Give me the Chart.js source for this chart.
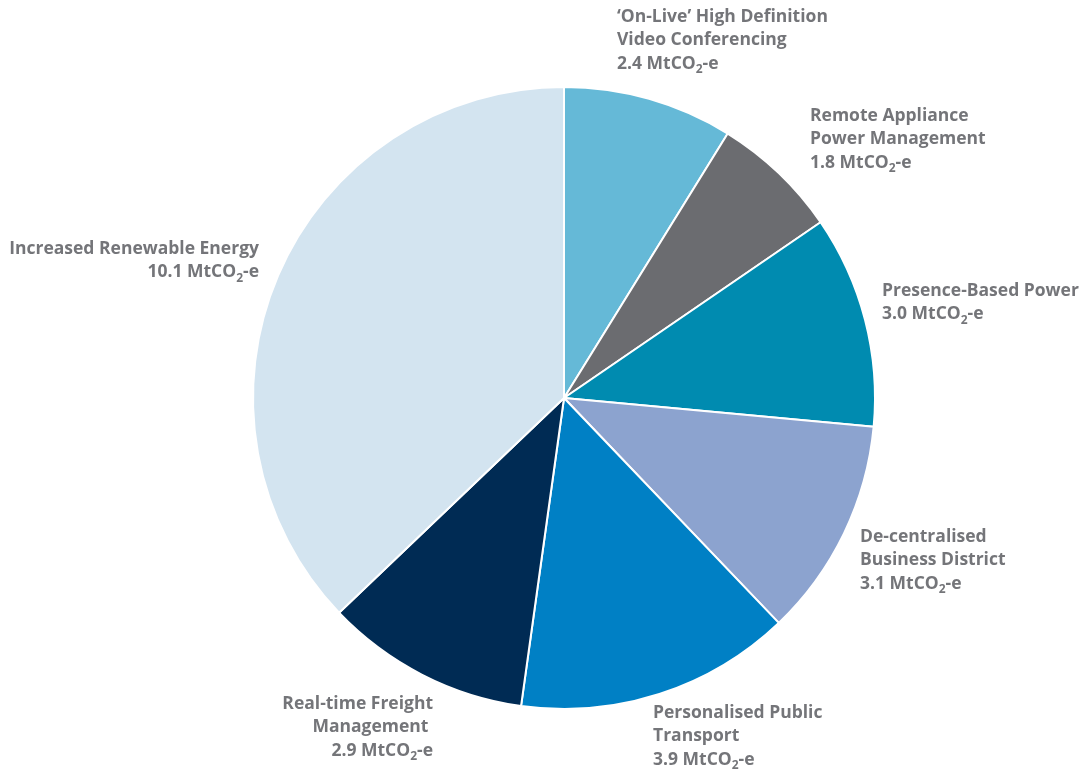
<!DOCTYPE html>
<html>
<head>
<meta charset="utf-8">
<script src="https://cdn.jsdelivr.net/npm/chart.js@4"></script>
<style>
  html, body { margin: 0; padding: 0; background: #fff; }
  #wrap { width: 1079px; height: 775px; position: relative; }
</style>
</head>
<body>
<div id="wrap"><canvas id="pieChart"></canvas></div>
<script>
// slices, clockwise from 12 o'clock
const categories = [
    ["\u2018On-Live\u2019 High Definition", "Video Conferencing"],
    ["Remote Appliance", "Power Management"],
    ["Presence-Based Power"],
    ["De-centralised", "Business District"],
    ["Personalised Public", "Transport"],
    ["Real-time Freight", "Management "],
    ["Increased Renewable Energy"]
]
const savings = [2.4, 1.8, 3.0, 3.1, 3.9, 2.9, 10.1]
const sliceColors = ["#65b9d7", "#6b6c70", "#008bb0", "#8ca3cf", "#0080c5", "#002b54", "#d3e4f0"]

// where each label block sits (text only) and how it is aligned
const labelSpots = [
    {x: 617, y: 17, align: 'left'},
    {x: 810, y: 116, align: 'left'},
    {x: 882, y: 291, align: 'left'},
    {x: 860, y: 537, align: 'left'},
    {x: 653, y: 713, align: 'left'},
    {x: 433, y: 704, align: 'right'},
    {x: 259, y: 249, align: 'right'}
]

const labelFont = 'bold 17.5px "Open Sans", sans-serif'
const subFont = 'bold 12px "Open Sans", sans-serif'
const labelColor = '#747579'
const lineGap = 23.5

function drawValueLine(ctx, val, x, y, align){
    let a = val.toFixed(1) + ' MtCO'
    let b = '2'
    let c = '-e'
    ctx.font = labelFont
    let wa = ctx.measureText(a).width
    let wc = ctx.measureText(c).width
    ctx.font = subFont
    let wb = ctx.measureText(b).width
    let total = wa + wb + wc
    let start = align === 'right' ? x - total : x
    ctx.textAlign = 'left'
    ctx.font = labelFont
    ctx.fillText(a, start, y)
    ctx.font = subFont
    ctx.fillText(b, start + wa, y + 6)
    ctx.font = labelFont
    ctx.fillText(c, start + wa + wb, y)
}

const labelPlugin = {
    id: 'sliceLabels',
    afterDraw(chart){
        const ctx = chart.ctx
        ctx.save()
        ctx.fillStyle = labelColor
        ctx.textBaseline = 'middle'
        savings.forEach((val, i) => {
            let spot = labelSpots[i]
            let lines = categories[i]
            ctx.font = labelFont
            ctx.textAlign = spot.align
            lines.forEach((ln, j) => {
                ctx.fillText(ln, spot.x, spot.y + j * lineGap)
            })
            drawValueLine(ctx, val, spot.x, spot.y + lines.length * lineGap, spot.align)
        })
        ctx.restore()
    }
}

const pieCtx = document.getElementById('pieChart').getContext('2d')
const pieChart = new Chart(pieCtx, {
    type: 'pie',
    data: {
        labels: categories.map(c => c.join(' ')),
        datasets: [{
            data: savings,
            backgroundColor: sliceColors,
            borderColor: '#ffffff',
            borderWidth: 2
        }]
    },
    options: {
        responsive: true,
        maintainAspectRatio: false,
        animation: false,
        layout: {
            padding: {top: 86, bottom: 65, left: 252, right: 203}
        },
        plugins: {
            legend: {display: false},
            tooltip: {enabled: false}
        }
    },
    plugins: [labelPlugin]
})
</script>
</body>
</html>
